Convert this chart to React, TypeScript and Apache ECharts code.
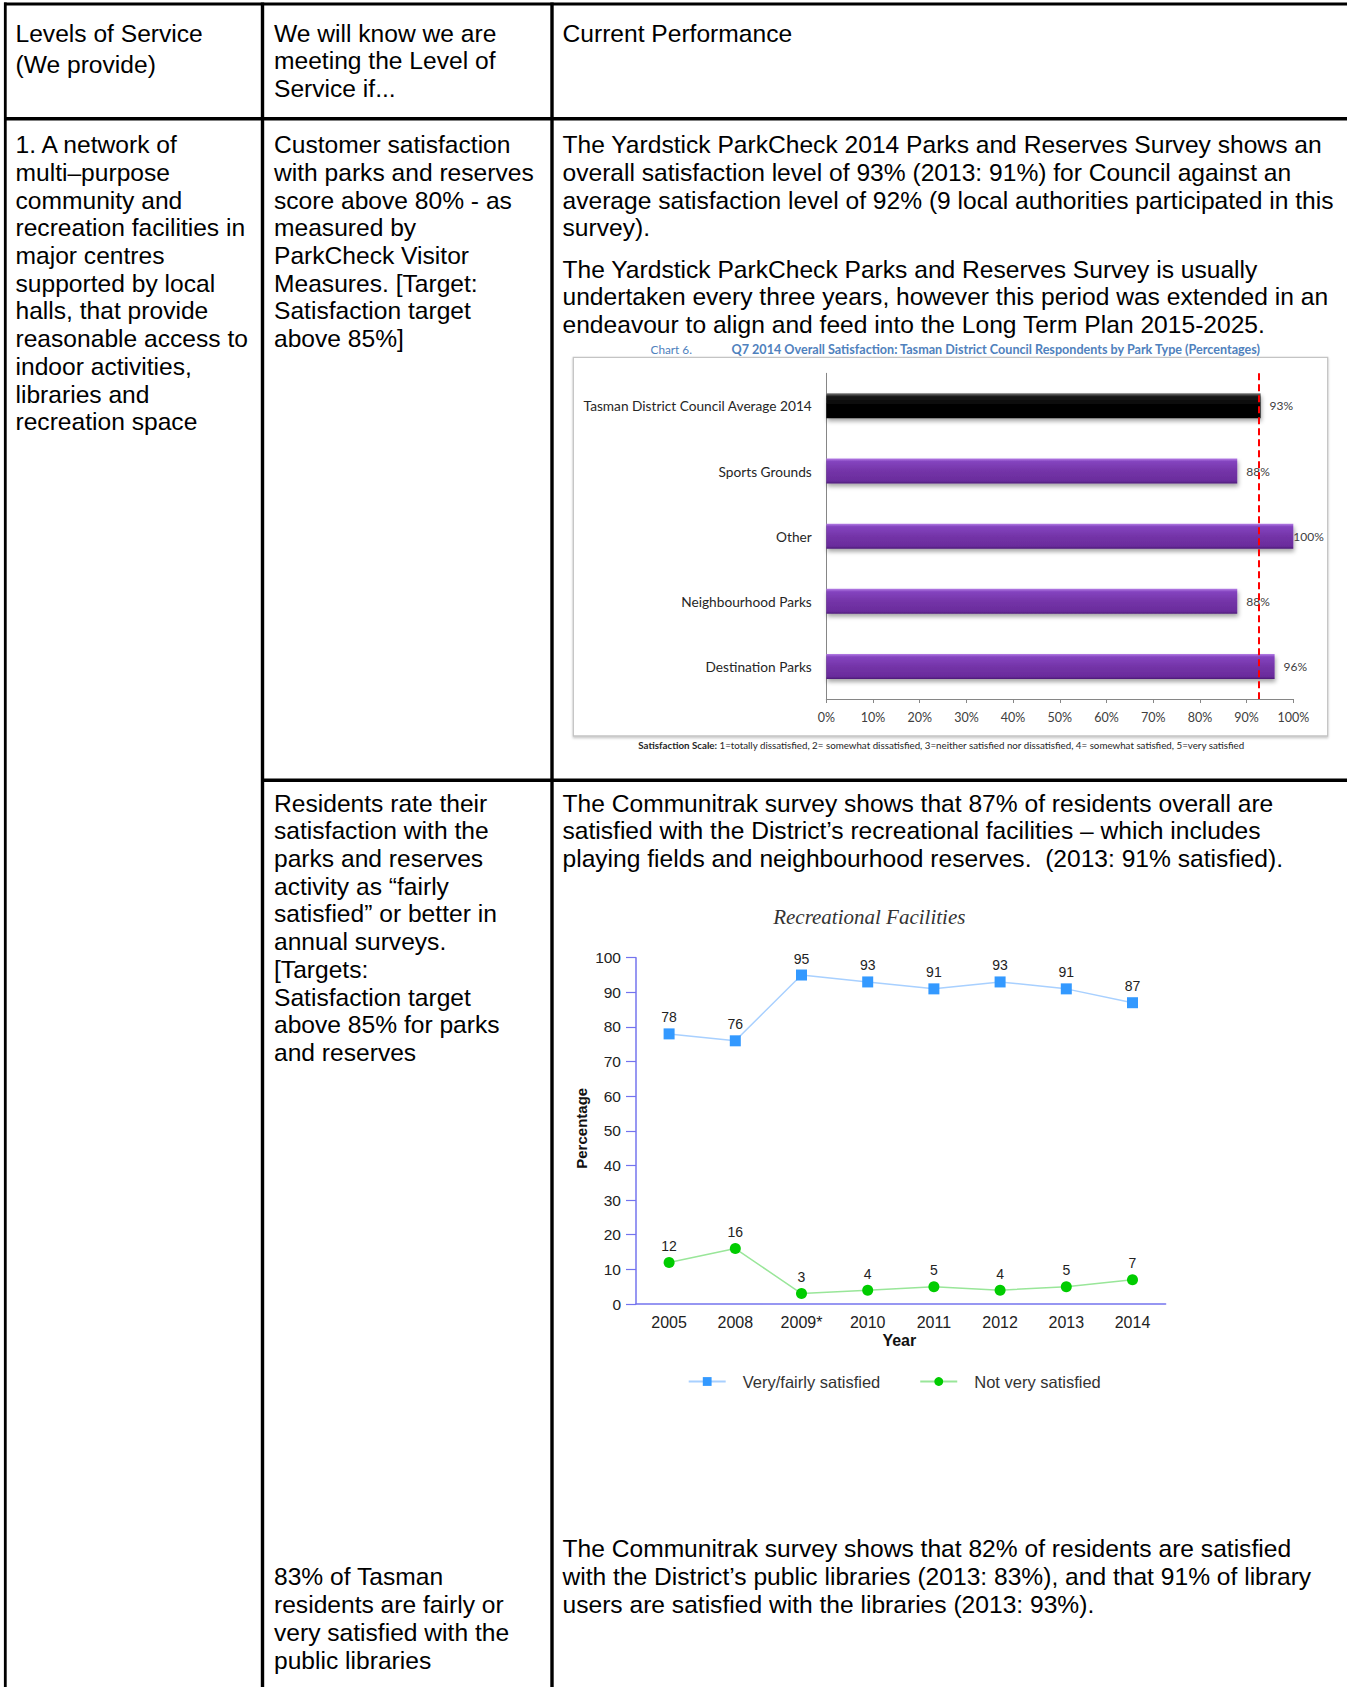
import React, { useEffect, useRef } from 'react';
import * as echarts from 'echarts';

const PAGE_W = 1347;
const PAGE_H = 1687;
const SANS = '"Liberation Sans", Arial, Helvetica, sans-serif';
const SERIF = '"Liberation Serif", "Times New Roman", serif';
const CAL = 'Lato, "Open Sans", sans-serif';

// Table text, one entry per printed line
const headerCol1 = ['Levels of Service', '(We provide)'];
const headerCol2 = ['We will know we are', 'meeting the Level of', 'Service if...'];
const headerCol3 = ['Current Performance'];

const levelOfService = [
  '1. A network of',
  'multi\u2013purpose',
  'community and',
  'recreation facilities in',
  'major centres',
  'supported by local',
  'halls, that provide',
  'reasonable access to',
  'indoor activities,',
  'libraries and',
  'recreation space',
];

const measureParkCheck = [
  'Customer satisfaction',
  'with parks and reserves',
  'score above 80% - as',
  'measured by',
  'ParkCheck Visitor',
  'Measures. [Target:',
  'Satisfaction target',
  'above 85%]',
];

const parkCheckPara1 = [
  'The Yardstick ParkCheck 2014 Parks and Reserves Survey shows an',
  'overall satisfaction level of 93% (2013: 91%) for Council against an',
  'average satisfaction level of 92% (9 local authorities participated in this',
  'survey).',
];
const parkCheckPara2 = [
  'The Yardstick ParkCheck Parks and Reserves Survey is usually',
  'undertaken every three years, however this period was extended in an',
  'endeavour to align and feed into the Long Term Plan 2015-2025.',
];

const measureResidents = [
  'Residents rate their',
  'satisfaction with the',
  'parks and reserves',
  'activity as \u201cfairly',
  'satisfied\u201d or better in',
  'annual surveys.',
  '[Targets:',
  'Satisfaction target',
  'above 85% for parks',
  'and reserves',
];
const communitrakRecreation = [
  'The Communitrak survey shows that 87% of residents overall are',
  'satisfied with the District\u2019s recreational facilities \u2013 which includes',
  'playing fields and neighbourhood reserves.  (2013: 91% satisfied).',
];

const measureLibraries = [
  '83% of Tasman',
  'residents are fairly or',
  'very satisfied with the',
  'public libraries',
];
const communitrakLibraries = [
  'The Communitrak survey shows that 82% of residents are satisfied',
  'with the District\u2019s public libraries (2013: 83%), and that 91% of library',
  'users are satisfied with the libraries (2013: 93%).',
];

// Chart 6: satisfaction by park type
const chart6Label = 'Chart 6.';
const chart6Title =
  'Q7 2014 Overall Satisfaction: Tasman District Council Respondents by Park Type (Percentages)';
const chart6Note =
  '1=totally dissatisfied, 2= somewhat dissatisfied, 3=neither satisfied nor dissatisfied, 4= somewhat satisfied, 5=very satisfied';
const parkTypes = [
  'Tasman District Council Average 2014',
  'Sports Grounds',
  'Other',
  'Neighbourhood Parks',
  'Destination Parks',
];
const parkSatisfaction = [93, 88, 100, 88, 96];
const councilAverageMark = 92.6;

// Communitrak: recreational facilities over time
const recTitle = 'Recreational Facilities';
const surveyYears = ['2005', '2008', '2009*', '2010', '2011', '2012', '2013', '2014'];
const veryFairlySatisfied = [78, 76, 95, 93, 91, 93, 91, 87];
const notVerySatisfied = [12, 16, 3, 4, 5, 4, 5, 7];

const BODY_SIZE = 24.6;
const LINE_STEP = 27.7;

// place each line of a paragraph by its baseline
function paragraph(lines: string[], x: number, baseline: number, step = LINE_STEP) {
  return lines.map((t, i) => ({
    type: 'text',
    x,
    y: baseline + i * step - 0.3465 * BODY_SIZE,
    style: {
      text: t,
      fontFamily: SANS,
      fontSize: BODY_SIZE,
      fill: '#000',
      textAlign: 'left',
      verticalAlign: 'middle',
    },
  }));
}

function rule(x1: number, y1: number, x2: number, y2: number, w = 3.2) {
  return {
    type: 'line',
    shape: { x1, y1, x2, y2 },
    style: { stroke: '#000', lineWidth: w },
  };
}

const AX_BLUE = '#7474ee';

export default function App() {
  const ref = useRef<HTMLDivElement>(null);

  useEffect(() => {
    if (!ref.current) return;
    const chart = echarts.init(ref.current, null, { renderer: 'svg', width: PAGE_W, height: PAGE_H });

    const purple = new echarts.graphic.LinearGradient(0, 0, 0, 1, [
      { offset: 0, color: '#b57ee6' },
      { offset: 0.12, color: '#8444bf' },
      { offset: 0.5, color: '#7434a8' },
      { offset: 0.9, color: '#6a2c9c' },
      { offset: 1, color: '#4c1c78' },
    ]);
    const black = new echarts.graphic.LinearGradient(0, 0, 0, 1, [
      { offset: 0, color: '#7a7a7a' },
      { offset: 0.12, color: '#1c1c1c' },
      { offset: 0.5, color: '#000' },
      { offset: 1, color: '#000' },
    ]);

    const graphics: any[] = [
      // table rules
      rule(4, 4, PAGE_W, 4, 2.8),
      rule(5.3, 2.6, 5.3, PAGE_H, 2.8),
      rule(262.5, 2.6, 262.5, PAGE_H, 3.4),
      rule(552, 2.6, 552, PAGE_H, 3.4),
      rule(4, 118.7, PAGE_W, 118.7, 3.6),
      rule(262.5, 780.3, PAGE_W, 780.3, 3.6),

      // header row
      ...paragraph(headerCol1.slice(0, 1), 15.5, 41.7),
      ...paragraph(headerCol1.slice(1), 15.5, 73.3),
      ...paragraph(headerCol2, 274, 41.7),
      ...paragraph(headerCol3, 562.5, 41.7),

      // parks and reserves row
      ...paragraph(levelOfService, 15.5, 153.3),
      ...paragraph(measureParkCheck, 274, 153.3),
      ...paragraph(parkCheckPara1, 562.5, 153.3),
      ...paragraph(parkCheckPara2, 562.5, 277.7),
      ...paragraph(measureResidents, 274, 811.7),
      ...paragraph(communitrakRecreation, 562.5, 811.7),
      ...paragraph(measureLibraries, 274, 1585.5),
      ...paragraph(communitrakLibraries, 562.5, 1557.5),

      // chart 6 frame and captions
      {
        type: 'rect',
        z: -1,
        shape: { x: 573.3, y: 357.3, width: 754.4, height: 378.7 },
        style: {
          fill: '#fff',
          stroke: '#c4c4c4',
          lineWidth: 1.3,
          shadowColor: 'rgba(0,0,0,0.22)',
          shadowBlur: 2,
          shadowOffsetY: 1.5,
        },
      },
      {
        type: 'text',
        x: 650.5,
        y: 349,
        style: { text: chart6Label, fontFamily: CAL, fontSize: 11.8, fill: '#4f81bd', verticalAlign: 'middle' },
      },
      {
        type: 'text',
        x: 731.5,
        y: 349,
        style: {
          text: chart6Title,
          fontFamily: CAL,
          fontWeight: 'bold',
          fontSize: 12.6,
          fill: '#4f81bd',
          verticalAlign: 'middle',
        },
      },
      {
        type: 'text',
        x: 638.3,
        y: 745,
        style: {
          text: '{b|Satisfaction Scale:} ' + chart6Note,
          fontFamily: CAL,
          fontSize: 9.75,
          fill: '#262626',
          verticalAlign: 'middle',
          rich: { b: { fontFamily: CAL, fontSize: 9.75, fontWeight: 'bold', fill: '#262626' } },
        },
      },

      // recreational facilities captions
      {
        type: 'text',
        x: 869.3,
        y: 916.5,
        style: {
          text: recTitle,
          fontFamily: SERIF,
          fontStyle: 'italic',
          fontSize: 21,
          fill: '#333',
          textAlign: 'center',
          verticalAlign: 'middle',
        },
      },
      {
        type: 'text',
        x: 899.3,
        y: 1340,
        style: {
          text: 'Year',
          fontFamily: SANS,
          fontWeight: 'bold',
          fontSize: 16,
          fill: '#111',
          textAlign: 'center',
          verticalAlign: 'middle',
        },
      },
      {
        type: 'text',
        x: 581,
        y: 1128.3,
        rotation: Math.PI / 2,
        style: {
          text: 'Percentage',
          fontFamily: SANS,
          fontWeight: 'bold',
          fontSize: 15,
          fill: '#111',
          textAlign: 'center',
          verticalAlign: 'middle',
        },
      },
    ];

    chart.setOption({
      animation: false,
      backgroundColor: '#fff',
      textStyle: { fontFamily: SANS },
      graphic: { elements: graphics },
      legend: {
        left: 687.7,
        top: 1373,
        padding: 0,
        itemWidth: 37,
        itemHeight: 11,
        itemGap: 39,
        data: ['Very/fairly satisfied', 'Not very satisfied'],
        textStyle: { fontFamily: SANS, fontSize: 16.5, color: '#333', padding: [0, 0, 0, 12] },
      },
      grid: [
        { left: 826.3, top: 373.3, width: 467, height: 325.7 },
        { left: 636, top: 957.7, width: 529.6, height: 346.3 },
      ],
      xAxis: [
        {
          type: 'value',
          gridIndex: 0,
          min: 0,
          max: 100,
          interval: 10,
          axisLine: { show: true, lineStyle: { color: '#868686', width: 1 } },
          axisTick: { show: true, length: 4, lineStyle: { color: '#868686' } },
          splitLine: { show: false },
          axisLabel: { formatter: '{value}%', margin: 12, fontFamily: CAL, fontSize: 12.5, color: '#404040' },
        },
        {
          type: 'category',
          gridIndex: 1,
          data: surveyYears,
          axisLine: { lineStyle: { color: AX_BLUE, width: 1.5 } },
          axisTick: { length: 9, lineStyle: { color: AX_BLUE, width: 1.5 } },
          axisLabel: { margin: 10, fontFamily: SANS, fontSize: 16, color: '#222' },
        },
      ],
      yAxis: [
        {
          type: 'category',
          gridIndex: 0,
          data: parkTypes,
          inverse: true,
          axisLine: { lineStyle: { color: '#868686', width: 1 } },
          axisTick: { length: 4, lineStyle: { color: '#868686' } },
          axisLabel: { margin: 14.5, fontFamily: CAL, fontSize: 13.7, color: '#262626' },
        },
        {
          type: 'value',
          gridIndex: 1,
          min: 0,
          max: 100,
          interval: 10,
          axisLine: { show: true, lineStyle: { color: AX_BLUE, width: 1.5 } },
          axisTick: { show: true, length: 10, lineStyle: { color: AX_BLUE, width: 1.2 } },
          splitLine: { show: false },
          axisLabel: { margin: 15, fontFamily: SANS, fontSize: 15.5, color: '#222' },
        },
      ],
      series: [
        {
          type: 'bar',
          xAxisIndex: 0,
          yAxisIndex: 0,
          barWidth: 25,
          data: parkSatisfaction.map((v, i) => ({
            value: v,
            itemStyle: { color: i === 0 ? black : purple },
            label: v >= 100 ? { distance: 0 } : undefined,
          })),
          itemStyle: {
            shadowColor: 'rgba(0,0,0,0.35)',
            shadowBlur: 4,
            shadowOffsetX: 1,
            shadowOffsetY: 3,
          },
          label: {
            show: true,
            position: 'right',
            distance: 9,
            formatter: '{c}%',
            fontFamily: CAL,
            fontSize: 12,
            color: '#404040',
          },
          markLine: {
            silent: true,
            symbol: 'none',
            label: { show: false },
            lineStyle: { color: '#ff0000', type: [7, 4], width: 2 },
            data: [{ xAxis: councilAverageMark }],
          },
        },
        {
          name: 'Very/fairly satisfied',
          type: 'line',
          xAxisIndex: 1,
          yAxisIndex: 1,
          data: veryFairlySatisfied,
          symbol: 'rect',
          symbolSize: 11,
          itemStyle: { color: '#3399ff' },
          lineStyle: { color: '#a8d0ff', width: 1.5 },
          label: { show: true, position: 'top', distance: 4, fontFamily: SANS, fontSize: 14, color: '#222' },
        },
        {
          name: 'Not very satisfied',
          type: 'line',
          xAxisIndex: 1,
          yAxisIndex: 1,
          data: notVerySatisfied,
          symbol: 'circle',
          symbolSize: 11,
          itemStyle: { color: '#00cc00' },
          lineStyle: { color: '#99e699', width: 1.5 },
          label: { show: true, position: 'top', distance: 4, fontFamily: SANS, fontSize: 14, color: '#222' },
        },
      ],
    });

    return () => chart.dispose();
  }, []);

  return (
    <div
      ref={ref}
      style={{ position: 'absolute', left: 0, top: 0, width: PAGE_W, height: PAGE_H, background: '#fff' }}
    />
  );
}
